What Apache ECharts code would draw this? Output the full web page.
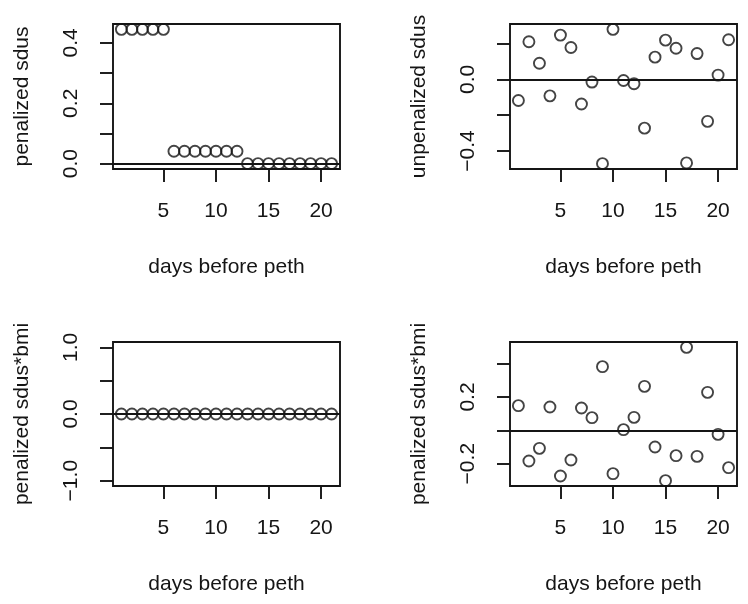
<!DOCTYPE html>
<html><head><meta charset="utf-8">
<script src="https://cdn.jsdelivr.net/npm/echarts@6/dist/echarts.min.js"></script>
<style>html,body{margin:0;padding:0;background:#fff}#c{width:748px;height:604px}</style>
</head><body><div id="c"></div>
<script>
const days = [1,2,3,4,5,6,7,8,9,10,11,12,13,14,15,16,17,18,19,20,21];
const penalizedSdus = [0.445,0.445,0.445,0.445,0.445,0.041,0.041,0.041,0.041,0.041,0.041,0.041,0,0,0,0,0,0,0,0,0];
const unpenalizedSdus = [-0.118,0.210,0.090,-0.092,0.247,0.178,-0.137,-0.015,-0.470,0.279,-0.006,-0.024,-0.272,0.124,0.219,0.174,-0.466,0.144,-0.234,0.024,0.221];
const penalizedSdusBmi = [0,0,0,0,0,0,0,0,0,0,0,0,0,0,0,0,0,0,0,0,0];
const unpenalizedSdusBmi = [0.148,-0.184,-0.108,0.140,-0.274,-0.178,0.134,0.076,0.382,-0.260,0.004,0.078,0.264,-0.100,-0.302,-0.152,0.498,-0.156,0.228,-0.024,-0.224];
const xTicks = [5,10,15,20];
const yTitles = ["penalized sdus","unpenalized sdus","penalized sdus*bmi","penalized sdus*bmi"];
const xTitle = "days before peth";
const yTickSets = [[0,0.1,0.2,0.3,0.4],[-0.4,-0.2,0,0.2],[-1,-0.5,0,0.5,1],[-0.2,0,0.2,0.4]];
const yLabelSets = [[0,0.2,0.4],[-0.4,0],[-1,0,1],[-0.2,0.2]];
const seriesData = [penalizedSdus, unpenalizedSdus, penalizedSdusBmi, unpenalizedSdusBmi];

function rng(v){
  let mn=Math.min(...v), mx=Math.max(...v);
  if (mn===mx){ mn-=1; mx+=1; }
  const r=mx-mn; return [mn-0.04*r, mx+0.04*r];
}
const xr = rng(days);
const FONT = "Liberation Sans, Arial, Helvetica, sans-serif";
const INK = "#151515";
const LW = 1.9;
const grids = [
  {left:113, top:24, width:227, height:145},
  {left:510, top:24, width:227, height:145},
  {left:113, top:342, width:227, height:144},
  {left:510, top:342, width:227, height:144}
];
const fmt = v => { const s=(Math.abs(v)<1e-9?0:v).toFixed(1); return s.replace('-', '\u2212'); };
const option = {
  animation:false,
  backgroundColor:'#fff',
  grid: grids.map(g=>Object.assign({show:true,borderColor:INK,borderWidth:LW,backgroundColor:'transparent'},g)),
  xAxis: grids.map((g,i)=>({
    gridIndex:i, type:'value', min:xr[0], max:xr[1], position:'bottom',
    axisLine:{show:false, onZero:false},
    splitLine:{show:false},
    axisTick:{show:true, inside:false, customValues:xTicks, length:13, lineStyle:{color:INK,width:LW}},
    axisLabel:{show:true, customValues:xTicks, margin:32, fontSize:21, fontFamily:FONT, color:INK},
    name:xTitle, nameLocation:'middle', nameGap:88,
    nameTextStyle:{fontSize:21, fontFamily:FONT, color:INK, verticalAlign:'top'}
  })),
  yAxis: grids.map((g,i)=>{
    const r = rng(seriesData[i]);
    return {
      gridIndex:i, type:'value', min:r[0], max:r[1], position:'left',
      axisLine:{show:false, onZero:false},
      splitLine:{show:false},
      axisTick:{show:true, inside:false, customValues:yTickSets[i], length:13, lineStyle:{color:INK,width:LW}},
      axisLabel:{show:true, customValues:yLabelSets[i], rotate:90, margin:31, fontSize:21, fontFamily:FONT, color:INK, formatter:fmt},
      name:yTitles[i], nameLocation:'middle', nameGap:80,
      nameTextStyle:{fontSize:21, fontFamily:FONT, color:INK}
    };
  }),
  series: seriesData.map((d,i)=>({
    type:'scatter', xAxisIndex:i, yAxisIndex:i,
    data: days.map((x,k)=>[x,d[k]]),
    symbol:'circle', symbolSize:11,
    itemStyle:{color:'rgba(255,255,255,0)', borderColor:INK, borderWidth:1.9},
    markLine:{silent:true, symbol:'none', label:{show:false},
      lineStyle:{color:INK, width:LW, type:'solid'},
      data:[{yAxis:0}]},
    z:3
  }))
};
const chart = echarts.init(document.getElementById('c'), null, {renderer:'canvas'});
chart.setOption(option);
</script></body></html>
